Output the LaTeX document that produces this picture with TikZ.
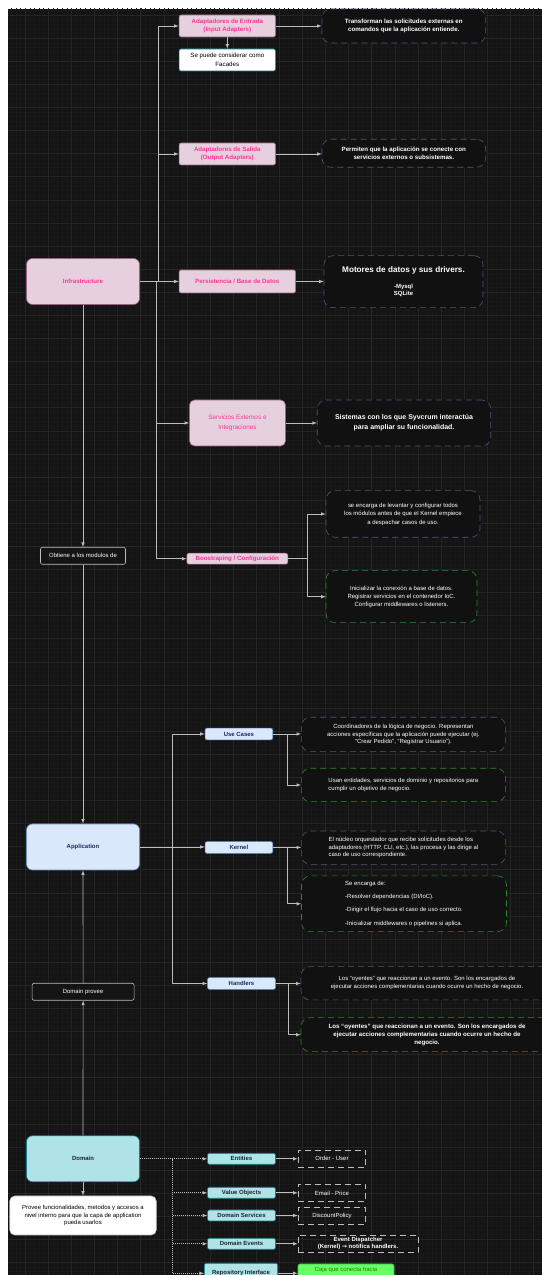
\documentclass[tikz,border=0pt]{standalone}
\usepackage{fontspec}
\setmainfont{Liberation Sans}
\newfontfamily\arrowfont{DejaVu Sans}
\definecolor{bgcol}{HTML}{141414}
\definecolor{gridfaint}{HTML}{181818}
\definecolor{gridstrong}{HTML}{252525}
\definecolor{infrafill}{HTML}{E6D0DE}
\definecolor{infraline}{HTML}{996185}
\definecolor{infratext}{HTML}{FF3399}
\definecolor{appfill}{HTML}{DAE8FC}
\definecolor{appline}{HTML}{6C8EBF}
\definecolor{apptext}{HTML}{1F2A5C}
\definecolor{domfill}{HTML}{B0E3E6}
\definecolor{domline}{HTML}{0E8088}
\definecolor{domtextcol}{HTML}{1A2430}
\definecolor{purpledash}{HTML}{56517E}
\definecolor{greendash}{HTML}{2D8A2D}
\definecolor{wirecol}{HTML}{BDBDBD}
\definecolor{cajafill}{HTML}{66FF66}
\definecolor{cajatext}{HTML}{2D7600}
\begin{document}
\begin{tikzpicture}[>=latex,line join=bevel,
  base/.style={inner sep=0pt,align=center,font=\fontsize{6}{7.5}\selectfont},
  infrabox/.style={base,draw=infraline,fill=infrafill,text=infratext,rounded corners=2bp,
    font=\fontsize{6.2}{8.6}\selectfont\bfseries},
  appbox/.style={base,draw=appline,fill=appfill,text=apptext,rounded corners=2bp,
    font=\fontsize{6}{7.5}\selectfont\bfseries},
  dombox/.style={base,draw=domline,fill=domfill,text=domtextcol,rounded corners=2bp,
    font=\fontsize{6}{7.5}\selectfont\bfseries},
  bigbox/.style={rounded corners=6bp,minimum width=113bp,minimum height=46bp},
  descpurple/.style={base,draw=purpledash,fill=bgcol!85!black,text=white,
    dash pattern=on 6bp off 4bp,rounded corners=9bp,font=\fontsize{6}{8.3}\selectfont},
  descgreen/.style={descpurple,draw=greendash},
  notebox/.style={base,draw=wirecol,fill=bgcol,text=white,rounded corners=2bp},
  whitebox/.style={base,draw=domline,fill=white,text=black,rounded corners=2bp,
    font=\fontsize{6.2}{8.6}\selectfont},
  itembox/.style={base,draw=wirecol,text=white,dash pattern=on 6bp off 4bp},
  wire/.style={draw=wirecol,->},
  dotwire/.style={wire,dash pattern=on 1bp off 1bp},
]
  \pgfsetlinewidth{0.6bp}
%%
  \useasboundingbox (0bp,0bp) rectangle (542bp,1275bp);
  \fill[white] (0bp,0bp) rectangle (542bp,1275bp);
  \fill[bgcol] (8bp,0bp) rectangle (542bp,1266bp);
\begin{scope}
  \clip (8bp,0bp) rectangle (542bp,1266bp);
  \draw[gridfaint,line width=0.4bp,step=4.62bp,shift={(2.1bp,12.6bp)}] (-10bp,-20bp) grid (560bp,1280bp);
  \draw[gridstrong,line width=0.5bp,step=23.1bp,shift={(2.1bp,12.6bp)}] (-10bp,-20bp) grid (560bp,1280bp);
\end{scope}
%
  % Node: infra
  \node[infrabox,bigbox] (infra) at (83bp,993.5bp) {Infrastructure};
  % Node: entrada
  \node[infrabox,minimum width=96.5bp,minimum height=22bp] (entrada) at (227.3bp,1249bp) {Adaptadores de Entrada\\(Input Adapters)};
  % Node: facades
  \node[whitebox,minimum width=96.5bp,minimum height=22bp] (facades) at (227.3bp,1215bp) {Se puede considerar como\\Facades};
  % Node: salida
  \node[infrabox,minimum width=96.5bp,minimum height=22bp] (salida) at (227.3bp,1121bp) {Adaptadores de Salida\\(Output Adapters)};
  % Node: persist
  \node[infrabox,minimum width=116.5bp,minimum height=23bp] (persist) at (237.3bp,993.5bp) {Persistencia / Base de Datos};
  % Node: servicios
  \node[infrabox,rounded corners=5bp,minimum width=96bp,minimum height=46bp,font=\fontsize{6.4}{10}\selectfont] (servicios) at (237.5bp,852bp) {Servicios Externos e\\Integraciones};
  % Node: boot
  \node[infrabox,minimum width=101bp,minimum height=11bp] (boot) at (237.3bp,716.3bp) {Boostraping / Configuración};
  % Node: descentrada
  \node[descpurple,minimum width=163.6bp,minimum height=34bp,font=\fontsize{6.2}{8.7}\selectfont\bfseries] (descentrada) at (403.8bp,1249bp) {Transforman las solicitudes externas en\\comandos que la aplicación entiende.};
  % Node: descsalida
  \node[descpurple,minimum width=163.6bp,minimum height=28bp,font=\fontsize{6.2}{8.7}\selectfont\bfseries] (descsalida) at (403.8bp,1121.7bp) {Permiten que la aplicación se conecte con\\servicios externos o subsistemas.};
  % Node: descpersist
  \node[descpurple,minimum width=159bp,minimum height=52bp,font=\fontsize{6}{7.6}\selectfont\bfseries] (descpersist) at (403.5bp,993.3bp) {{\fontsize{8.2}{10}\selectfont Motores de datos y sus drivers.}\\[8bp]-Mysql\\SQLite};
  % Node: descserv
  \node[descpurple,minimum width=173.5bp,minimum height=46bp,font=\fontsize{7}{10.3}\selectfont\bfseries] (descserv) at (404bp,852bp) {Sistemas con los que Syvcrum interactúa\\para ampliar su funcionalidad.};
  % Node: descboota
  \node[descpurple,minimum width=154bp,minimum height=46.6bp,font=\fontsize{6}{8.5}\selectfont] (descboota) at (403bp,761bp) {se encarga de levantar y configurar todos\\los módulos antes de que el Kernel empiece\\a despachar casos de uso.};
  % Node: descbootb
  \node[descgreen,minimum width=151bp,minimum height=52bp] (descbootb) at (401.5bp,678.3bp) {Inicializar la conexión a base de datos.\\Registrar servicios en el contenedor IoC.\\Configurar middlewares o listeners.};
  % Node: obtiene
  \node[notebox,minimum width=85bp,minimum height=17bp] (obtiene) at (83bp,719.2bp) {Obtiene a los modulos de};
  % Node: app
  \node[appbox,bigbox] (app) at (83bp,428bp) {Application};
  % Node: usecases
  \node[appbox,minimum width=67.7bp,minimum height=11.7bp] (usecases) at (238.9bp,541bp) {Use Cases};
  % Node: kernel
  \node[appbox,minimum width=67.7bp,minimum height=11.7bp] (kernel) at (238.9bp,427.5bp) {Kernel};
  % Node: handlers
  \node[appbox,minimum width=68bp,minimum height=11.7bp] (handlers) at (241.5bp,291.5bp) {Handlers};
  % Node: descuca
  \node[descpurple,minimum width=204bp,minimum height=34.4bp,font=\fontsize{6}{7.6}\selectfont] (descuca) at (403.4bp,540.5bp) {Coordinadores de la lógica de negocio. Representan\\acciones específicas que la aplicación puede ejecutar (ej.\\“Crear Pedido”, “Registrar Usuario”).};
  % Node: descucb
  \node[descgreen,align=left,minimum width=204bp,minimum height=33.4bp,font=\fontsize{6}{7.8}\selectfont] (descucb) at (403.4bp,490bp) {Usan entidades, servicios de dominio y repositorios para\\cumplir un objetivo de negocio.};
  % Node: descka
  \node[descpurple,align=left,minimum width=204bp,minimum height=33.3bp,font=\fontsize{6}{7.6}\selectfont] (descka) at (403.4bp,427.3bp) {El núcleo orquestador que recibe solicitudes desde los\\adaptadores (HTTP, CLI, etc.), las procesa y las dirige al\\caso de uso correspondiente.};
  % Node: desckb
  \node[descgreen,align=left,minimum width=205bp,minimum height=55.7bp,font=\fontsize{6}{13.3}\selectfont] (desckb) at (404bp,371.2bp) {Se encarga de:\\-Resolver dependencias (DI/IoC).\\-Dirigir el flujo hacia el caso de uso correcto.\\-Inicializar middlewares o pipelines si aplica.};
  % Node: descha
  \node[descpurple,minimum width=252bp,minimum height=33.3bp,font=\fontsize{6}{7.8}\selectfont] (descha) at (427bp,291.7bp) {Los “oyentes” que reaccionan a un evento. Son los encargados de\\ejecutar acciones complementarias cuando ocurre un hecho de negocio.};
  % Node: deschb
  \node[descgreen,minimum width=252bp,minimum height=34bp,font=\fontsize{6.2}{8.3}\selectfont\bfseries] (deschb) at (427bp,240.3bp) {Los “oyentes” que reaccionan a un evento. Son los encargados de\\ejecutar acciones complementarias cuando ocurre un hecho de\\negocio.};
  % Node: provee
  \node[notebox,minimum width=102bp,minimum height=17bp] (provee) at (83.1bp,283.2bp) {Domain provee};
  % Node: domain
  \node[dombox,bigbox] (domain) at (83bp,116.2bp) {Domain};
  % Node: domtext
  \node[whitebox,rounded corners=5bp,draw=wirecol,minimum width=146.5bp,minimum height=39bp,font=\fontsize{6}{7.8}\selectfont] (domtext) at (83bp,59.5bp) {Provee funcionalidades, metodos y accesos a\\nivel interno para que la capa de application\\pueda usarlos};
  % Node: entities
  \node[dombox,minimum width=68bp,minimum height=11bp] (entities) at (241.5bp,116.2bp) {Entities};
  % Node: valueobj
  \node[dombox,minimum width=68bp,minimum height=11bp] (valueobj) at (241.5bp,82.2bp) {Value Objects};
  % Node: domserv
  \node[dombox,minimum width=68bp,minimum height=11bp] (domserv) at (241.5bp,59.5bp) {Domain Services};
  % Node: domevents
  \node[dombox,minimum width=68bp,minimum height=11bp] (domevents) at (241.5bp,31.2bp) {Domain Events};
  % Node: repo
  \node[dombox,minimum width=73.4bp,minimum height=20bp] (repo) at (241bp,1.7bp) {Repository Interface};
  % Node: orderuser
  \node[itembox,minimum width=67.7bp,minimum height=17.7bp] (orderuser) at (331.9bp,116.2bp) {Order - User};
  % Node: emailprice
  \node[itembox,minimum width=67.7bp,minimum height=17.4bp] (emailprice) at (331.9bp,82bp) {Email - Price};
  % Node: discount
  \node[itembox,minimum width=67.7bp,minimum height=16.7bp] (discount) at (331.9bp,59.3bp) {DiscountPolicy};
  % Node: dispatcher
  \node[itembox,minimum width=120bp,minimum height=17.7bp,font=\fontsize{6}{7.2}\selectfont\bfseries] (dispatcher) at (358bp,31.2bp) {Event Dispatcher\\(Kernel) {\arrowfont →} notifica handlers.};
  % Node: caja
  \node[base,fill=cajafill,draw=cajafill!70!black,text=cajatext,rounded corners=2bp,minimum width=96bp,minimum height=17.5bp] (caja) at (346bp,2.25bp) {Caja que conecta hacia\\\mbox{}};
%
  % Edge: infra -> entrada
  \draw [wire] (infra.east) -| ([xshift=-20bp]entrada.west) -- (entrada.west);
  % Edge: infra -> salida
  \draw [wire] (infra.east) -| ([xshift=-20bp]salida.west) -- (salida.west);
  % Edge: infra -> persist
  \draw [wire] (infra.east) -- (persist.west);
  % Edge: infra -> servicios
  \draw [wire] (infra.east) -| ([xshift=-32.9bp]servicios.west) -- (servicios.west);
  % Edge: infra -> boot
  \draw [wire] (infra.east) -| ([xshift=-30.2bp]boot.west) -- (boot.west);
  % Edge: entrada -> facades
  \draw [wire] (entrada.south) -- (facades.north);
  % Edge: entrada -> descentrada
  \draw [wire] (entrada.east) -- (descentrada.west);
  % Edge: salida -> descsalida
  \draw [wire] (salida.east) -- (salida.east -| descsalida.west);
  % Edge: persist -> descpersist
  \draw [wire] (persist.east) -- (persist.east -| descpersist.west);
  % Edge: servicios -> descserv
  \draw [wire] (servicios.east) -- (descserv.west);
  % Edge: boot -> descboota
  \draw [wire] (boot.east) -- ++(19.5bp,0bp) |- (descboota.west);
  % Edge: boot -> descbootb
  \draw [wire] (boot.east) -- ++(19.5bp,0bp) |- (descbootb.west);
  % Edge: infra -> obtiene
  \draw [wire] (infra.south) -- (obtiene.north);
  % Edge: obtiene -> app
  \draw [wire] (obtiene.south) -- (app.north);
  % Edge: app -> usecases
  \draw [wire] (app.east) -- ++(32.6bp,0bp) |- (usecases.west);
  % Edge: app -> kernel
  \draw [wire] (app.east) -- (app.east -| kernel.west);
  % Edge: app -> handlers
  \draw [wire] (app.east) -- ++(32.6bp,0bp) |- (handlers.west);
  % Edge: usecases -> descuca
  \draw [wire] (usecases.east) -- (usecases.east -| descuca.west);
  % Edge: usecases -> descucb
  \draw [wire] (usecases.east) -- ++(14.2bp,0bp) |- (descucb.west);
  % Edge: kernel -> descka
  \draw [wire] (kernel.east) -- (kernel.east -| descka.west);
  % Edge: kernel -> desckb
  \draw [wire] (kernel.east) -- ++(14.2bp,0bp) |- (desckb.west);
  % Edge: handlers -> descha
  \draw [wire] (handlers.east) -- (handlers.east -| descha.west);
  % Edge: handlers -> deschb
  \draw [wire] (handlers.east) -- ++(12.5bp,0bp) |- (deschb.west);
  % Edge: domain -> provee -> app
  \draw [wire] (domain.north) -- (provee.south);
  \draw [wire] (provee.north) -- (app.south);
  % Edge: domain -> domtext
  \draw [wire] (domain.south) -- (domtext.north);
  % Edge: domain -> entities, valueobj, domserv, domevents, repo
  \draw [dotwire] (domain.east) -- (entities.west);
  \draw [dotwire] (domain.east) -- ++(32.6bp,0bp) |- (valueobj.west);
  \draw [dotwire] (domain.east) -- ++(32.6bp,0bp) |- (domserv.west);
  \draw [dotwire] (domain.east) -- ++(32.6bp,0bp) |- (domevents.west);
  \draw [dotwire] (domain.east) -- ++(32.6bp,0bp) |- (repo.west);
  % Edge: entities -> orderuser
  \draw [wire] (entities.east) -- (orderuser.west);
  % Edge: valueobj -> emailprice
  \draw [wire] (valueobj.east) -- (valueobj.east -| emailprice.west);
  % Edge: domserv -> discount
  \draw [wire] (domserv.east) -- (domserv.east -| discount.west);
  % Edge: domevents -> dispatcher
  \draw [wire] (domevents.east) -- (dispatcher.west);
  % Edge: repo -> caja
  \draw [wire] (repo.east) -- (repo.east -| caja.west);
%
\end{tikzpicture}
\end{document}
